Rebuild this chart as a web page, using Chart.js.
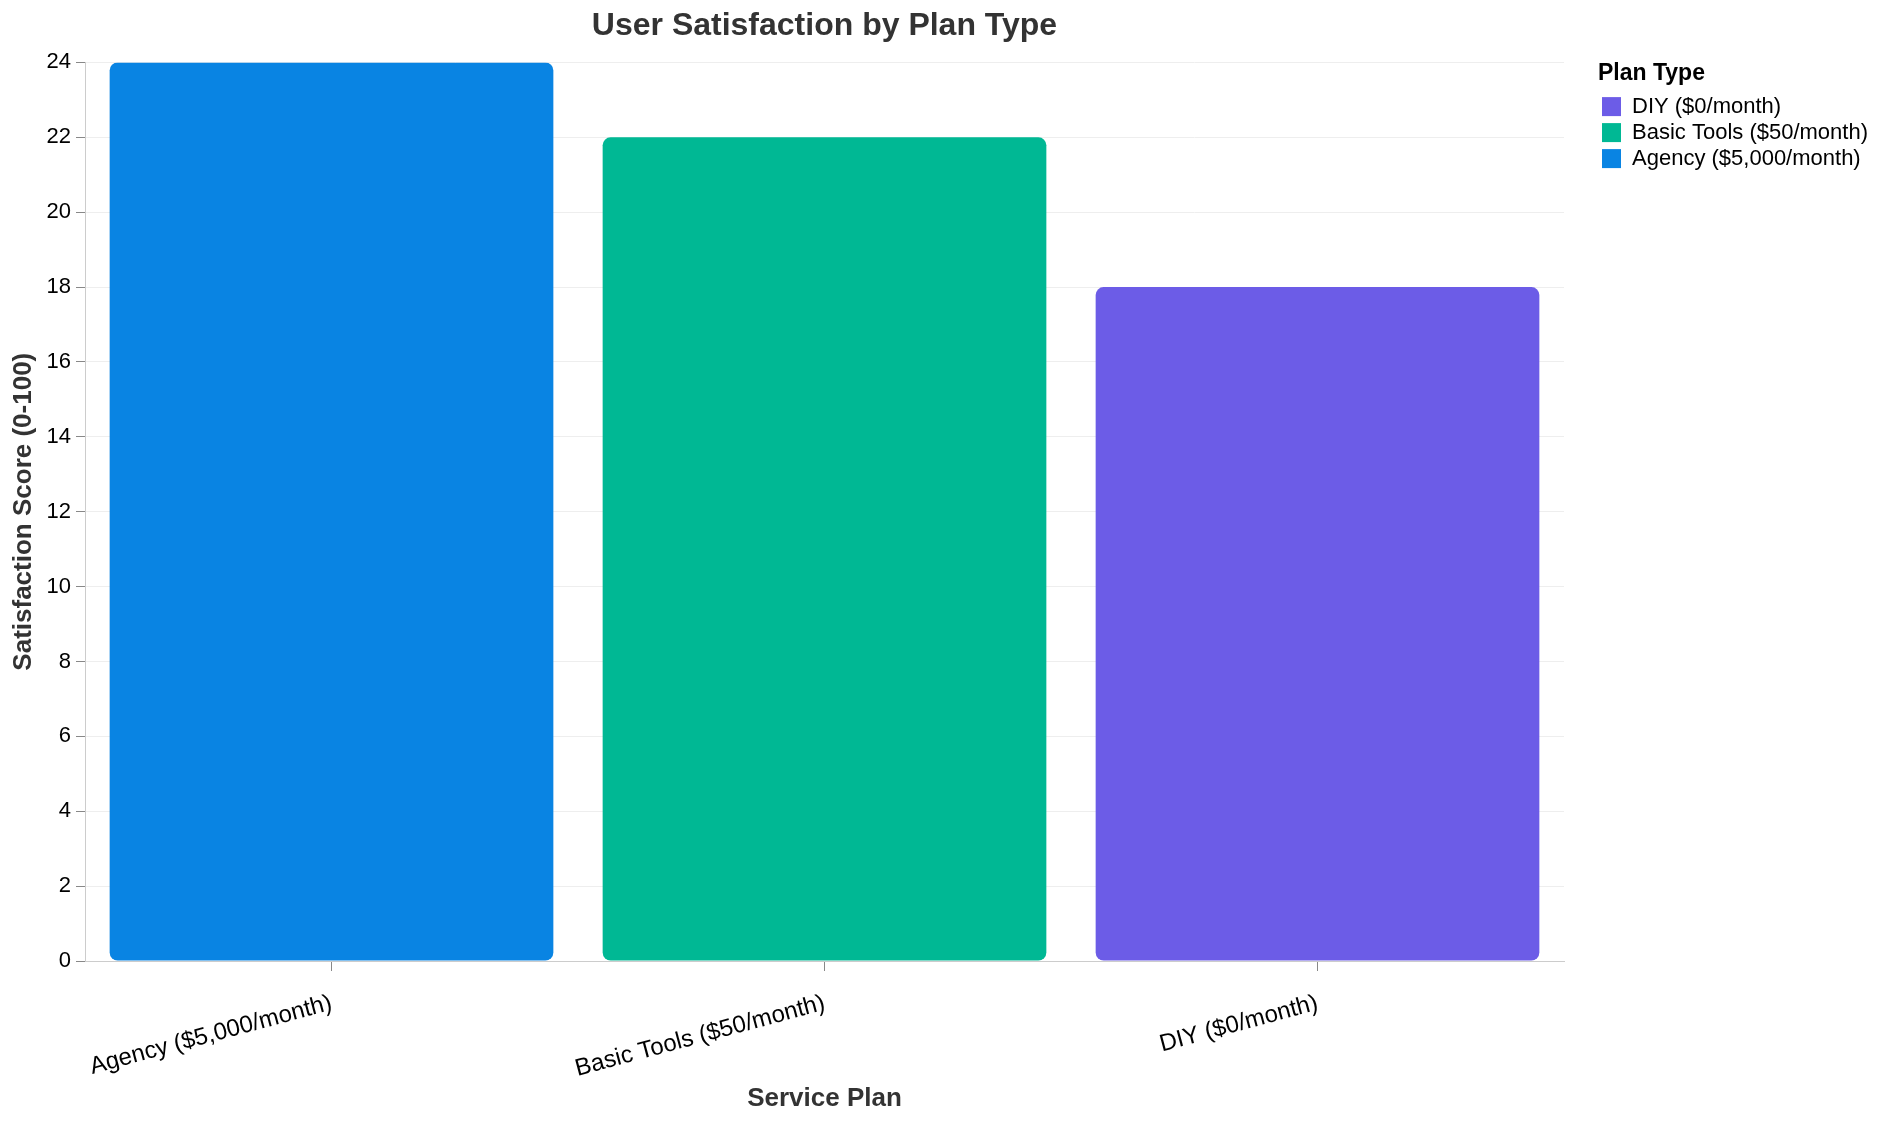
<!DOCTYPE html>
<html>
<head>
<meta charset="utf-8">
<script src="https://cdn.jsdelivr.net/npm/chart.js@4.4.1/dist/chart.umd.min.js"></script>
<style>
    html, body { margin: 0; padding: 0; background: #fff; }
</style>
</head>
<body>
<canvas id="chart" width="1878" height="1124"></canvas>
<script>
// chart data
const plans = ['Agency ($5,000/month)', 'Basic Tools ($50/month)', 'DIY ($0/month)'];
const scores = [24, 22, 18];
const planColors = ['#0984e3', '#00b894', '#6c5ce7'];
const legendOrder = ['DIY ($0/month)', 'Basic Tools ($50/month)', 'Agency ($5,000/month)'];
const yMax = 24;
const yStep = 2;

const fontFamily = '"Liberation Sans", Arial, Helvetica, sans-serif';

const ctx = document.getElementById('chart').getContext('2d');

new Chart(ctx, {
    type: 'bar',
    data: {
        labels: plans,
        datasets: [{
            label: 'Satisfaction',
            data: scores,
            backgroundColor: planColors,
            borderRadius: 8,
            borderSkipped: false,
            categoryPercentage: 0.9,
            barPercentage: 1
        }]
    },
    options: {
        responsive: false,
        animation: false,
        devicePixelRatio: 1,
        layout: { padding: { left: 0, right: 0, top: 0, bottom: 0 } },
        plugins: {
            title: {
                display: true,
                text: 'User Satisfaction by Plan Type',
                fullSize: false,
                color: '#333',
                font: { family: fontFamily, size: 32, weight: 'bold' },
                padding: { top: 7, bottom: 17 }
            },
            legend: {
                position: 'right',
                align: 'start',
                title: {
                    display: true,
                    text: 'Plan Type',
                    position: 'start',
                    color: '#000',
                    font: { family: fontFamily, size: 23, weight: 'bold' },
                    padding: { top: 62, bottom: 2 }
                },
                labels: {
                    boxWidth: 19,
                    boxHeight: 19,
                    padding: 4,
                    color: '#000',
                    font: { family: fontFamily, size: 22 },
                    generateLabels: function(chart) {
                        return legendOrder.map(name => {
                            const i = plans.indexOf(name);
                            return {
                                text: name,
                                fillStyle: planColors[i],
                                strokeStyle: planColors[i],
                                lineWidth: 0,
                                hidden: false,
                                index: i
                            };
                        });
                    }
                }
            },
            tooltip: { enabled: false }
        },
        scales: {
            x: {
                offset: true,
                grid: {
                    offset: false,
                    drawOnChartArea: false,
                    drawTicks: true,
                    tickLength: 10,
                    tickColor: '#888'
                },
                border: { color: '#ccc', width: 1 },
                ticks: {
                    minRotation: 15,
                    maxRotation: 15,
                    padding: 18,
                    color: '#000',
                    font: { family: fontFamily, size: 24 }
                },
                title: {
                    display: true,
                    text: 'Service Plan',
                    color: '#333',
                    font: { family: fontFamily, size: 26, weight: 'bold' },
                    padding: { top: 0, bottom: 10 }
                },
                afterFit: function(scale) { scale.height = 163; }
            },
            y: {
                min: 0,
                max: yMax,
                grid: {
                    color: '#eee',
                    tickColor: '#888',
                    tickLength: 9
                },
                border: { color: '#ccc', width: 1 },
                ticks: {
                    stepSize: yStep,
                    padding: 5,
                    color: '#000',
                    font: { family: fontFamily, size: 22 }
                },
                title: {
                    display: true,
                    text: 'Satisfaction Score (0-100)',
                    color: '#333',
                    font: { family: fontFamily, size: 26, weight: 'bold' },
                    padding: { top: 8, bottom: 0 }
                },
                afterFit: function(scale) { scale.width = 85; }
            },
            // empty axis, only keeps a gap between the plot and the legend
            gap: {
                type: 'linear',
                position: 'right',
                grid: { display: false },
                border: { display: false },
                ticks: { display: false },
                afterFit: function(scale) { scale.width = 34; }
            }
        }
    }
});
</script>
</body>
</html>
